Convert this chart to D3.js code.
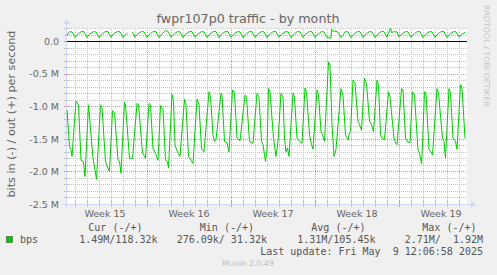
<!DOCTYPE html>
<html>
<head>
<meta charset="utf-8">
<title>fwpr107p0 traffic - by month</title>
<script src="https://cdn.jsdelivr.net/npm/d3@7"></script>
<style>
  body { margin: 0; background: #f0f0f0; }
  svg { display: block; }
  text { font-family: "DejaVu Sans", sans-serif; fill: #666; }
  .mono { font-family: "DejaVu Sans Mono", monospace; fill: #555; white-space: pre; font-size: 10px; }
  .crisp path, .crisp rect { shape-rendering: crispEdges; }
</style>
</head>
<body>
<script>
// visible window: 400 px of 2 hours each, clock times treated as local
var viewStart = Date.UTC(2025, 3, 6, 8, 0, 0);
var viewEnd = viewStart + 800 * 3600e3;

var title = "fwpr107p0 traffic - by month";
var yLabel = "bits in (-) / out (+) per second";
var yTicks = [0, -0.5, -1.0, -1.5, -2.0, -2.5];
var weekLabels = ["Week 15", "Week 16", "Week 17", "Week 18", "Week 19"];

// [hours after viewStart, M bits/s]
var inTraffic = [
  [0,-1.06],[5,-1.62],[8,-1.67],[10,-1.77],[18,-0.92],[23,-0.98],[28,-1.83],[33,-1.85],[36,-2.08],
  [43,-0.98],[52,-1.80],[59,-2.12],[67,-0.98],[70,-1.02],[77,-1.85],[82,-1.95],[85,-2.00],
  [91,-1.07],[95,-1.10],[102,-1.82],[105,-1.85],[108,-2.03],[115,-0.94],[117,-0.98],[125,-1.80],[131,-1.80],
  [140,-0.96],[143,-0.97],[151,-1.72],[154,-1.75],[157,-1.80],[164,-0.96],[167,-0.98],[172,-1.65],[177,-1.72],[182,-1.83],
  [187,-0.99],[192,-1.05],[197,-1.83],[201,-1.85],[203,-1.95],[210,-0.82],[213,-0.93],[216,-1.60],[222,-1.72],[226,-1.77],
  [235,-0.89],[238,-0.98],[243,-1.77],[248,-1.83],[252,-1.88],[260,-0.89],[264,-0.98],[269,-1.65],[274,-1.70],
  [284,-0.78],[287,-0.86],[292,-1.44],[295,-1.54],[298,-1.51],[308,-0.80],[310,-0.83],[315,-1.54],[320,-1.56],[324,-1.70],
  [331,-0.75],[335,-0.80],[340,-1.49],[346,-1.53],[356,-0.83],[359,-0.86],[365,-1.54],[372,-1.57],
  [380,-0.80],[384,-0.86],[389,-1.54],[392,-1.59],[397,-1.85],[400,-1.67],[403,-0.73],[406,-0.78],[413,-1.49],[418,-1.77],[422,-1.54],
  [428,-0.80],[432,-0.86],[435,-1.49],[438,-1.70],[441,-1.64],[444,-1.77],[452,-0.80],[455,-0.86],[460,-1.49],[465,-1.54],[470,-1.57],
  [476,-0.72],[479,-0.78],[485,-1.44],[489,-1.59],[492,-1.66],[500,-0.75],[503,-0.82],[508,-1.39],[511,-1.44],[515,-1.54],
  [523,-0.32],[526,-0.37],[530,-1.28],[533,-1.65],[534,-1.77],[538,-1.66],[548,-0.73],[552,-0.83],[557,-1.44],[562,-1.52],[564,-1.44],[567,-1.39],
  [572,-0.60],[576,-0.65],[582,-1.23],[585,-1.28],[589,-1.37],[595,-0.57],[599,-0.65],[605,-1.23],[609,-1.28],[613,-1.39],
  [620,-0.60],[623,-0.68],[627,-1.44],[630,-1.49],[635,-1.51],[643,-0.78],[646,-0.86],[654,-1.49],[658,-1.57],[660,-1.59],
  [669,-0.73],[672,-0.75],[677,-1.49],[680,-1.54],[686,-1.56],[691,-0.78],[695,-0.83],[702,-1.67],[705,-1.72],[709,-1.88],[710,-1.77],
  [715,-0.78],[718,-0.80],[724,-1.67],[728,-1.70],[731,-1.75],[740,-0.73],[743,-0.80],[751,-1.49],[754,-1.54],[757,-1.79],
  [764,-0.73],[767,-0.80],[772,-1.49],[777,-1.54],[780,-1.66],[787,-0.67],[790,-0.72],[796,-1.49]
];

var outTraffic = [
  [0,.090],[5,.143],[10,.140],[16,.057],[21,.100],[29,.148],[34,.142],[40,.055],[45,.105],
  [53,.145],[58,.138],[64,.052],[69,.100],[77,.150],[82,.143],[88,.058],[93,.110],
  [101,.147],[106,.140],[112,.055],[117,.100],[121,.125],[123,null],
  [131,.140],[136,.060],[141,.105],[149,.146],[154,.140],[160,.056],[165,.102],
  [173,.150],[178,.145],[184,.054],[189,.105],[197,.158],[202,.150],[208,.058],[213,.100],
  [221,.146],[226,.140],[232,.055],[237,.105],[245,.148],[250,.143],[256,.060],[261,.102],
  [269,.145],[274,.140],[280,.056],[285,.100],[293,.150],[298,.145],[304,.055],[309,.104],
  [317,.148],[322,.142],[328,.058],[333,.100],[341,.145],[346,.140],[352,.052],[357,.100],
  [365,.148],[370,.142],[376,.056],[381,.103],[389,.146],[394,.140],[400,.055],[405,.100],
  [413,.150],[418,.143],[424,.058],[429,.102],[437,.145],[442,.140],[448,.054],[453,.100],
  [461,.147],[466,.141],[472,.056],[477,.104],[485,.148],[490,.142],[496,.055],[501,.100],
  [509,.145],[514,.140],[520,.057],[528,.045],[529,.180],[532,.150],[538,.152],[542,.135],[548,.055],[553,.100],
  [557,.145],[562,.140],[568,.055],[573,.100],[581,.148],[586,.142],[592,.056],[597,.102],
  [605,.146],[610,.140],[616,.055],[621,.100],[629,.150],[634,.143],[640,.058],[643,.120],[647,.195],[649,.130],
  [653,.142],[660,.140],[664,.060],[669,.100],
  [677,.146],[682,.140],[688,.056],[693,.102],[701,.148],[706,.142],[712,.055],[717,.100],
  [725,.145],[730,.140],[736,.057],[741,.103],[749,.150],[754,.143],[760,.055],[765,.100],
  [773,.146],[778,.140],[784,.060],[789,.100],[796,.135]
];

var legendName = "bps";
var legendHeads = ["Cur (-/+)", "Min (-/+)", "Avg (-/+)", "Max (-/+)"];
var legendValues = ["1.49M/118.32k", "276.09k/ 31.32k", "1.31M/105.45k", "2.71M/  1.92M"];
var lastUpdate = "Last update: Fri May  9 12:06:58 2025";
var version = "Munin 2.0.49";

var svg = d3.select("body").append("svg").attr("width", 497).attr("height", 275);
svg.append("rect").attr("width", 497).attr("height", 275).attr("fill", "#f0f0f0");

var x = d3.scaleUtc().domain([new Date(viewStart), new Date(viewEnd)]).range([67, 467]);
var y = d3.scaleLinear().domain([-2.5, 0.2]).range([204, 28]);
function hx(h) { return x(new Date(viewStart + h * 3600e3)); }

var minorColor = "#c2c2c2", majorColor = "#e09090";

// dotted lines drawn as single pixel squares (1 on, 1 off)
function dotsH(r, x0, x1) {
  var s = "";
  for (var i = x0; i < x1; i += 2) s += "M" + i + "," + r + "h1v1h-1z";
  return s;
}
function dotsV(c, y0, y1) {
  var s = "";
  for (var j = y0; j < y1; j += 2) s += "M" + c + "," + j + "h1v1h-1z";
  return s;
}

svg.append("rect").attr("x", 67).attr("y", 28).attr("width", 400).attr("height", 176).attr("fill", "#fff");

var grid = svg.append("g").attr("class", "crisp");

// horizontal grid every 0.1 M, red every 0.5 M
y.ticks(27).forEach(function(v) {
  var major = Math.abs(v * 2 - Math.round(v * 2)) < 1e-6;
  var r = Math.round(y(v));
  var col = major ? majorColor : minorColor;
  grid.append("path").attr("d", dotsH(r, 67, 467)).attr("fill", col);
  grid.append("rect").attr("x", 64).attr("y", r).attr("width", 6).attr("height", 1).attr("fill", col);
});

// vertical grid each day, red at week start (sunday)
var days = d3.utcDay.range(new Date(viewStart), new Date(viewEnd));
days.forEach(function(d) {
  var major = d.getUTCDay() === 0;
  var c = Math.round(x(d));
  var col = major ? majorColor : minorColor;
  grid.append("path").attr("d", dotsV(c, 28, 204)).attr("fill", col);
  grid.append("rect").attr("x", c).attr("y", 201).attr("width", 1).attr("height", 6).attr("fill", col);
});

// axes with arrows
var axisColor = "#cfd6f8";
grid.append("rect").attr("x", 63).attr("y", 204).attr("width", 408).attr("height", 1).attr("fill", axisColor);
svg.append("path").attr("d", "M471,201.5 L476,204.5 L471,207.5 Z").attr("fill", axisColor);
grid.append("rect").attr("x", 66).attr("y", 24).attr("width", 1).attr("height", 184).attr("fill", axisColor);
svg.append("path").attr("d", "M63.5,24 L66.5,19 L69.5,24 Z").attr("fill", axisColor);

// traffic lines
var line = d3.line()
  .defined(function(d) { return d[1] !== null; })
  .x(function(d) { return hx(d[0]); })
  .y(function(d) { return y(d[1]); });

svg.append("path").datum(inTraffic).attr("d", line)
  .attr("fill", "none").attr("stroke", "#00cc00").attr("stroke-width", 1);
svg.append("path").datum(outTraffic).attr("d", line)
  .attr("fill", "none").attr("stroke", "#00cc00").attr("stroke-width", 1);

// zero line
grid.append("rect").attr("x", 67).attr("y", Math.round(y(0))).attr("width", 400).attr("height", 1).attr("fill", "#000");

// y tick labels
var yAxis = svg.append("g").attr("transform", "translate(59,0)")
  .call(d3.axisLeft(y).tickValues(yTicks).tickSize(0).tickPadding(0)
    .tickFormat(function(v) { return v === 0 ? "0.0" : v.toFixed(1) + " M"; }));
yAxis.select(".domain").remove();
yAxis.selectAll("text").attr("font-family", "DejaVu Sans").attr("font-size", "9.5px")
  .attr("fill", "#666").attr("dy", "0.35em");

// week labels, centred inside each week
var sundays = d3.utcSunday.range(d3.utcSunday.floor(new Date(viewStart)), new Date(viewEnd));
svg.append("g").selectAll("text").data(sundays).enter().append("text")
  .attr("x", function(d) { return x(new Date(d.getTime() + 3.5 * 864e5)); })
  .attr("y", 216.5).attr("text-anchor", "middle").attr("font-size", "9.5px")
  .text(function(d, i) { return weekLabels[i]; });

// title and side texts
svg.append("text").attr("x", 248).attr("y", 23).attr("text-anchor", "middle")
  .attr("font-size", "12.7px").attr("fill", "#555").text(title);
svg.append("text").attr("transform", "translate(15,114) rotate(-90)").attr("text-anchor", "middle")
  .attr("font-size", "11.2px").text(yLabel);
svg.append("text").attr("transform", "translate(484,5) rotate(90)")
  .attr("font-size", "7.9px").style("fill", "#c4c4c4").text("RRDTOOL / TOBI OETIKER");

// legend
svg.append("rect").attr("x", 6.5).attr("y", 236.5).attr("width", 6).attr("height", 6)
  .attr("fill", "#00cc00").attr("stroke", "#333").attr("stroke-width", 0.5);
svg.append("text").attr("class", "mono").attr("x", 20).attr("y", 243).text(legendName);
var headRight = [142.5, 254, 365.5, 476.5];
var valRight = [157.5, 267, 375.5, 483];
svg.append("g").selectAll("text").data(legendHeads).enter().append("text")
  .attr("class", "mono").attr("text-anchor", "end")
  .attr("x", function(d, i) { return headRight[i]; }).attr("y", 231).text(function(d) { return d; });
svg.append("g").selectAll("text").data(legendValues).enter().append("text")
  .attr("class", "mono").attr("text-anchor", "end")
  .attr("x", function(d, i) { return valRight[i]; }).attr("y", 243).text(function(d) { return d; });
svg.append("text").attr("class", "mono").attr("text-anchor", "end").attr("x", 483).attr("y", 255).text(lastUpdate);
svg.append("text").attr("x", 248).attr("y", 266).attr("text-anchor", "middle")
  .attr("font-size", "7.9px").style("fill", "#bdbdbd").text(version);
</script>
</body>
</html>
